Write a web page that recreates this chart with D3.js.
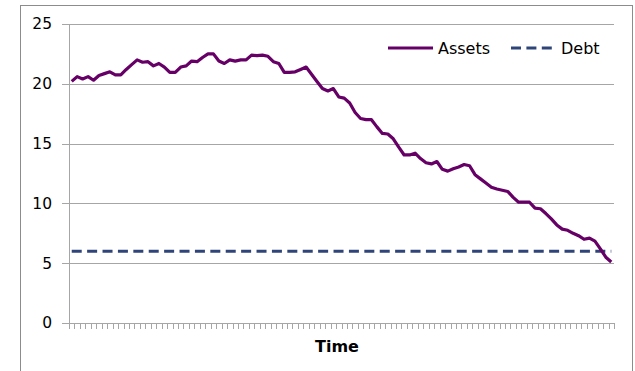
<!DOCTYPE html>
<html><head><meta charset="utf-8">
<script src="https://cdn.jsdelivr.net/npm/d3@7"></script>
<style>
html,body{margin:0;padding:0;background:#fff;}
svg{display:block;font-family:"DejaVu Sans",Verdana,sans-serif;}
</style></head>
<body>
<svg id="c" width="635" height="371"></svg>
<script>
const assets = [20.2,20.6,20.4,20.6,20.3,20.7,20.85,21.0,20.75,20.75,
  21.2,21.6,22.0,21.8,21.85,21.5,21.7,21.4,20.95,20.95,
  21.4,21.5,21.9,21.85,22.2,22.5,22.5,21.9,21.7,22.0,
  21.9,22.0,22.0,22.4,22.35,22.4,22.3,21.85,21.7,20.95,
  20.95,21.0,21.2,21.4,20.8,20.2,19.6,19.4,19.6,18.9,
  18.8,18.4,17.6,17.1,17.0,17.0,16.4,15.85,15.8,15.4,
  14.7,14.05,14.05,14.2,13.75,13.4,13.3,13.5,12.85,12.7,
  12.9,13.05,13.25,13.15,12.4,12.05,11.7,11.35,11.2,11.1,
  11.0,10.5,10.1,10.1,10.1,9.6,9.55,9.15,8.7,8.2,
  7.85,7.75,7.5,7.3,7.0,7.1,6.85,6.2,5.5,5.1];
const debt = assets.map(() => 6);
const yTicks = [0,5,10,15,20,25];
const seriesNames = ["Assets","Debt"];
const xTitle = "Time";

const svg = d3.select("#c");
const L = 69, R = 614, T = 24, B = 323;
const n = assets.length;

// outer border
svg.append("rect").attr("x",20.5).attr("y",5.5).attr("width",612).attr("height",380)
  .attr("fill","none").attr("stroke","#8c8c8c").attr("stroke-width",1);

const x = d3.scaleLinear().domain([0,n]).range([L,R]);
const y = d3.scaleLinear().domain([0,25]).range([B,T]);

// gridlines
const grid = svg.append("g").attr("transform",`translate(${L},0)`)
  .call(d3.axisLeft(y).tickValues(yTicks.filter(v=>v>0)).tickSize(-(R-L)).tickFormat(""));
grid.select(".domain").remove();
grid.selectAll("line").attr("stroke","#a6a6a6").attr("shape-rendering","crispEdges");

// y axis
const ya = svg.append("g").attr("transform",`translate(${L},0)`)
  .call(d3.axisLeft(y).tickValues(yTicks).tickSize(7).tickPadding(10));
ya.select(".domain").attr("stroke","#a6a6a6").attr("shape-rendering","crispEdges");
ya.selectAll("line").attr("stroke","#a6a6a6").attr("shape-rendering","crispEdges");
ya.selectAll("text").attr("font-size","15.5px").attr("fill","#000")
  .attr("font-family","'DejaVu Sans',Verdana,sans-serif");

// x axis
const xa = svg.append("g").attr("transform",`translate(0,${B})`)
  .call(d3.axisBottom(x).tickValues(d3.range(n+1)).tickSize(6).tickFormat(""));
xa.select(".domain").attr("stroke","#a6a6a6").attr("d",`M${L},0.5H${R}`).attr("shape-rendering","crispEdges");
xa.selectAll("line").attr("stroke","#a6a6a6").attr("shape-rendering","crispEdges");

svg.append("text").attr("x",337).attr("y",352).attr("text-anchor","middle")
  .attr("font-size","16px").attr("font-weight","bold").text(xTitle);

const line = d3.line().x((d,i)=>x(i+0.5)).y(d=>y(d));

svg.append("path").datum(debt).attr("d",line).attr("fill","none")
  .attr("stroke","#2f4478").attr("stroke-width",3.2)
  .attr("stroke-dasharray","10,5.4");
svg.append("path").datum(assets).attr("d",line).attr("fill","none")
  .attr("stroke","#660066").attr("stroke-width",3.2).attr("stroke-linejoin","round");

// legend
const lg = svg.append("g");
lg.append("line").attr("x1",388).attr("x2",433).attr("y1",48).attr("y2",48)
  .attr("stroke","#660066").attr("stroke-width",3.2);
lg.append("text").attr("x",438).attr("y",54).attr("font-size","16px").text(seriesNames[0]);
lg.append("line").attr("x1",511).attr("x2",552).attr("y1",48).attr("y2",48)
  .attr("stroke","#2f4478").attr("stroke-width",3.2).attr("stroke-dasharray","10,5.4");
lg.append("text").attr("x",561).attr("y",54).attr("font-size","16px").text(seriesNames[1]);
</script>
</body></html>
